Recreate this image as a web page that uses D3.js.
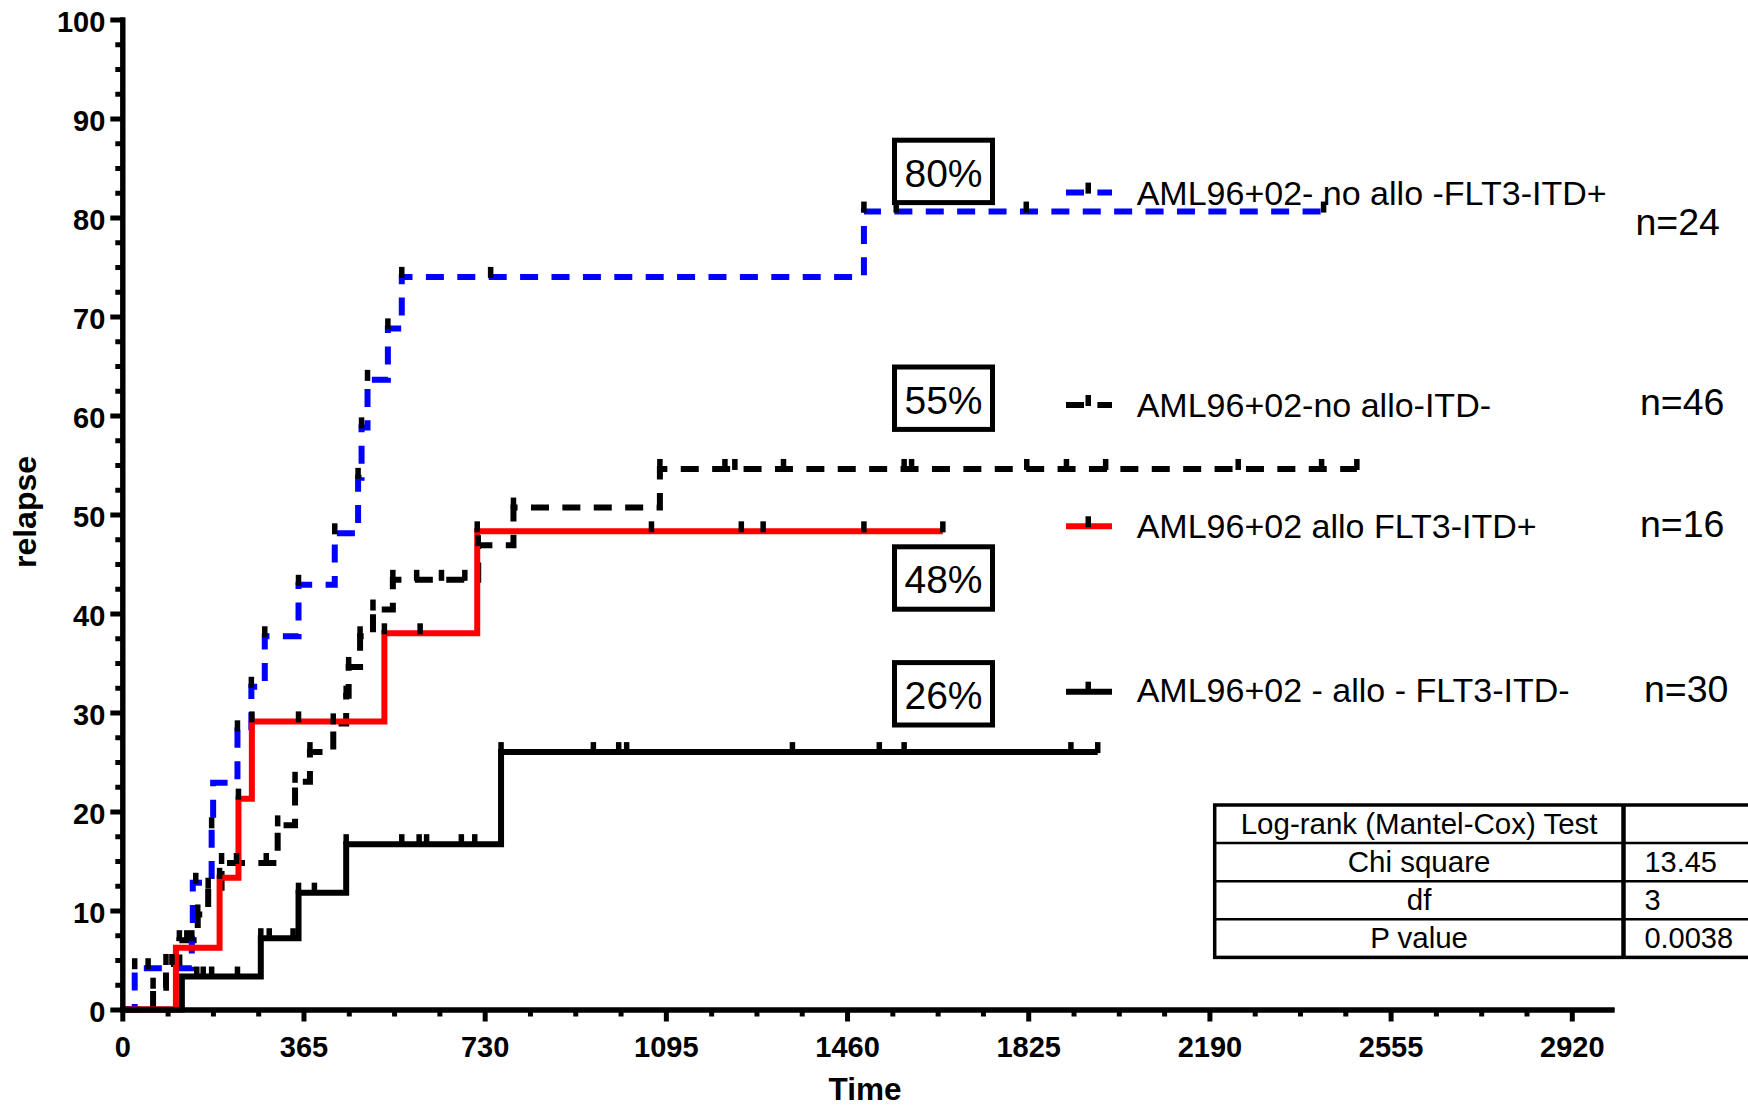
<!DOCTYPE html>
<html>
<head>
<meta charset="utf-8">
<script src="https://cdn.jsdelivr.net/npm/d3@7"></script>
<style>
  html, body { margin: 0; padding: 0; background: #fff; }
  svg { display: block; font-family: "Liberation Sans", Arial, sans-serif; }
</style>
</head>
<body>
<svg id="chart" width="1748" height="1108"></svg>
<script>
// ---- axis ticks ----
const xTickValues = [0, 365, 730, 1095, 1460, 1825, 2190, 2555, 2920];
const yTickValues = [0, 10, 20, 30, 40, 50, 60, 70, 80, 90, 100];

// ---- cumulative relapse curves: [day, % relapsed] at each step ----
const noAlloItdPosSteps = [[0, 0], [25, 4.17], [140, 8.4], [142, 12.8], [180, 18.4], [183, 22.9], [232, 28.2],
  [260, 32.6], [287, 37.7], [355, 42.9], [428, 48.1], [475, 53.7], [482, 58.8], [494, 63.6], [535, 68.8],
  [563, 74.0], [1494, 80.6]];
const noAlloItdPosEnd = 2420;
const noAlloItdPosCensored = [25, 52, 148, 180, 232, 260, 287, 355, 428, 475, 482, 494, 535, 563, 742,
  1494, 1559, 1821, 2420];

const noAlloItdNegSteps = [[0, 0], [62, 2.2], [88, 4.6], [115, 7.0], [152, 9.6], [173, 12.3], [200, 14.8],
  [313, 18.6], [348, 23.0], [378, 26.0], [425, 28.9], [451, 31.7], [456, 34.6], [479, 37.7], [505, 40.4],
  [545, 43.4], [717, 46.9], [788, 50.7], [1083, 54.6]];
const noAlloItdNegEnd = 2487;
const noAlloItdNegCensored = [62, 88, 100, 115, 130, 140, 152, 173, 200, 230, 290, 313, 348, 378, 425, 451,
  456, 479, 505, 545, 593, 643, 690, 717, 788, 1083, 1214, 1234, 1332, 1575, 1590, 1822, 1902, 1981, 2248,
  2416, 2487];

const alloItdPosSteps = [[0, 0], [108, 6.25], [196, 13.3], [234, 21.3], [261, 29.1], [528, 38.0], [715, 48.3]];
const alloItdPosEnd = 1653;
const alloItdPosCensored = [196, 234, 261, 355, 528, 600, 715, 1066, 1247, 1291, 1494, 1653];

const alloItdNegSteps = [[0, 0], [120, 3.33], [279, 7.2], [355, 11.8], [451, 16.7], [763, 26.0]];
const alloItdNegEnd = 1965;
const alloItdNegCensored = [150, 163, 180, 232, 279, 296, 344, 355, 387, 451, 563, 598, 613, 683, 710, 763,
  949, 1000, 1016, 1350, 1525, 1575, 1911, 1965];

// ---- labels ----
const seriesNames = ["AML96+02- no allo -FLT3-ITD+", "AML96+02-no allo-ITD-", "AML96+02 allo FLT3-ITD+",
  "AML96+02 - allo - FLT3-ITD-"];
const seriesCounts = ["n=24", "n=46", "n=16", "n=30"];
const plateauLabels = ["80%", "55%", "48%", "26%"];
const testLabels = ["Log-rank (Mantel-Cox) Test", "Chi square", "df", "P value"];
const testValues = ["", "13.45", "3", "0.0038"];

// ---- drawing ----
const svg = d3.select("#chart");
svg.append("rect").attr("width", 1748).attr("height", 1108).attr("fill", "#fff");

const x = d3.scaleLinear().domain([0, 3000]).range([122.3, 1611.5]);
const y = d3.scaleLinear().domain([0, 100]).range([1009.5, 19.5]);

const minorX = d3.range(91.25, 2920.1, 91.25).filter(v => Math.abs(v / 365 - Math.round(v / 365)) > 1e-6);
const minorY = d3.range(2.5, 100, 2.5).filter(v => v % 10 !== 0);

function styleAxis(g) {
  g.select(".domain").attr("stroke", "#000").attr("stroke-width", 5).attr("stroke-linecap", "square");
  g.selectAll(".tick line").attr("stroke", "#000").attr("stroke-width", 5);
  g.selectAll(".tick text").attr("fill", "#000").attr("font-size", 29).attr("font-weight", "bold")
    .attr("font-family", '"Liberation Sans", Arial, sans-serif');
}

// step curves
const series = [
  { steps: alloItdNegSteps, end: alloItdNegEnd, cens: alloItdNegCensored, color: "#000", dash: null },
  { steps: noAlloItdNegSteps, end: noAlloItdNegEnd, cens: noAlloItdNegCensored, color: "#000", dash: "18,13.4" },
  { steps: noAlloItdPosSteps, end: noAlloItdPosEnd, cens: noAlloItdPosCensored, color: "#0000ff", dash: "18,13.4" },
  { steps: alloItdPosSteps, end: alloItdPosEnd, cens: alloItdPosCensored, color: "#ff0000", dash: null }
];

const line = d3.line().x(d => x(d[0])).y(d => y(d[1])).curve(d3.curveStepAfter);

function valueAt(steps, t) {
  let v = 0;
  for (const s of steps) if (s[0] <= t) v = s[1];
  return v;
}

series.forEach(s => {
  const pts = s.steps.concat([[s.end, s.steps[s.steps.length - 1][1]]]);
  svg.append("path").datum(pts).attr("d", line).attr("fill", "none")
    .attr("stroke", s.color).attr("stroke-width", 6)
    .attr("stroke-dasharray", s.dash);
});

// censoring marks
series.forEach(s => {
  svg.append("g").selectAll("rect").data(s.cens).join("rect")
    .attr("x", t => x(t) - 2.75).attr("y", t => y(valueAt(s.steps, t)) - 10)
    .attr("width", 5.5).attr("height", 11).attr("fill", "#000");
});

// axes drawn over the curves: minor ticks, then labelled major ticks
svg.append("g").attr("transform", `translate(0,${y(0)})`)
  .call(d3.axisBottom(x).tickValues(minorX).tickSize(7).tickSizeOuter(0).tickFormat(""))
  .call(styleAxis);
svg.append("g").attr("transform", `translate(${x(0)},0)`)
  .call(d3.axisLeft(y).tickValues(minorY).tickSize(7).tickSizeOuter(0).tickFormat(""))
  .call(styleAxis);
svg.append("g").attr("transform", `translate(0,${y(0)})`)
  .call(d3.axisBottom(x).tickValues(xTickValues).tickSize(12).tickSizeOuter(0).tickPadding(15).tickFormat(d3.format("d")))
  .call(styleAxis);
const yAxisG = svg.append("g").attr("transform", `translate(${x(0)},0)`)
  .call(d3.axisLeft(y).tickValues(yTickValues).tickSize(12).tickSizeOuter(0).tickPadding(5).tickFormat(d3.format("d")))
  .call(styleAxis);
yAxisG.selectAll(".tick text").attr("dy", "0.42em");

// axis titles
svg.append("text").attr("x", 865).attr("y", 1100).attr("text-anchor", "middle")
  .attr("font-size", 31.5).attr("font-weight", "bold").text("Time");
svg.append("text").attr("transform", "translate(36,512) rotate(-90)").attr("text-anchor", "middle")
  .attr("font-size", 32).attr("font-weight", "bold").text("relapse");

// plateau value boxes
const boxCenters = [171.4, 398.2, 578, 693.8];
plateauLabels.forEach((lab, i) => {
  svg.append("rect").attr("x", 894.5).attr("y", boxCenters[i] - 31.2).attr("width", 98).attr("height", 62.4)
    .attr("fill", "#fff").attr("stroke", "#000").attr("stroke-width", 5);
  svg.append("text").attr("x", 943.5).attr("y", boxCenters[i] + 15.3).attr("text-anchor", "middle")
    .attr("font-size", 39).text(lab);
});

// legend
const legendOrder = [2, 1, 3, 0];
const legendLineY = [192.6, 405, 526.3, 691.7];
const legendTextY = [205, 417, 537.5, 702];
const countPos = [[1635.5, 235], [1640, 415], [1640, 537], [1644, 702]];
legendOrder.forEach((si, i) => {
  const s = series[si];
  svg.append("line").attr("x1", 1066).attr("x2", 1112).attr("y1", legendLineY[i]).attr("y2", legendLineY[i])
    .attr("stroke", s.color).attr("stroke-width", 6).attr("stroke-dasharray", s.dash);
  svg.append("rect").attr("x", 1085.5).attr("y", legendLineY[i] - 10).attr("width", 5.5).attr("height", 11)
    .attr("fill", "#000");
  svg.append("text").attr("x", 1136.7).attr("y", legendTextY[i]).attr("font-size", 34).text(seriesNames[i]);
  svg.append("text").attr("x", countPos[i][0]).attr("y", countPos[i][1]).attr("font-size", 37.5).text(seriesCounts[i]);
});

// log-rank test table
const tX = 1214.7, tTop = 805, rowH = 38.1, colX = 1623.5;
const tbl = svg.append("g");
testLabels.forEach((lab, i) => {
  const ry = tTop + i * rowH;
  if (i > 0) tbl.append("line").attr("x1", tX).attr("x2", 1760).attr("y1", ry).attr("y2", ry)
    .attr("stroke", "#000").attr("stroke-width", 2.5);
  tbl.append("text").attr("x", (tX + colX) / 2).attr("y", ry + 28.5).attr("text-anchor", "middle")
    .attr("font-size", 29.5).text(lab);
  tbl.append("text").attr("x", 1644.4).attr("y", ry + 28.5).attr("font-size", 29).text(testValues[i]);
});
tbl.append("line").attr("x1", colX).attr("x2", colX).attr("y1", tTop).attr("y2", tTop + 4 * rowH)
  .attr("stroke", "#000").attr("stroke-width", 4.5);
tbl.append("rect").attr("x", tX).attr("y", tTop).attr("width", 1760 - tX).attr("height", 4 * rowH)
  .attr("fill", "none").attr("stroke", "#000").attr("stroke-width", 3.5);
</script>
</body>
</html>
